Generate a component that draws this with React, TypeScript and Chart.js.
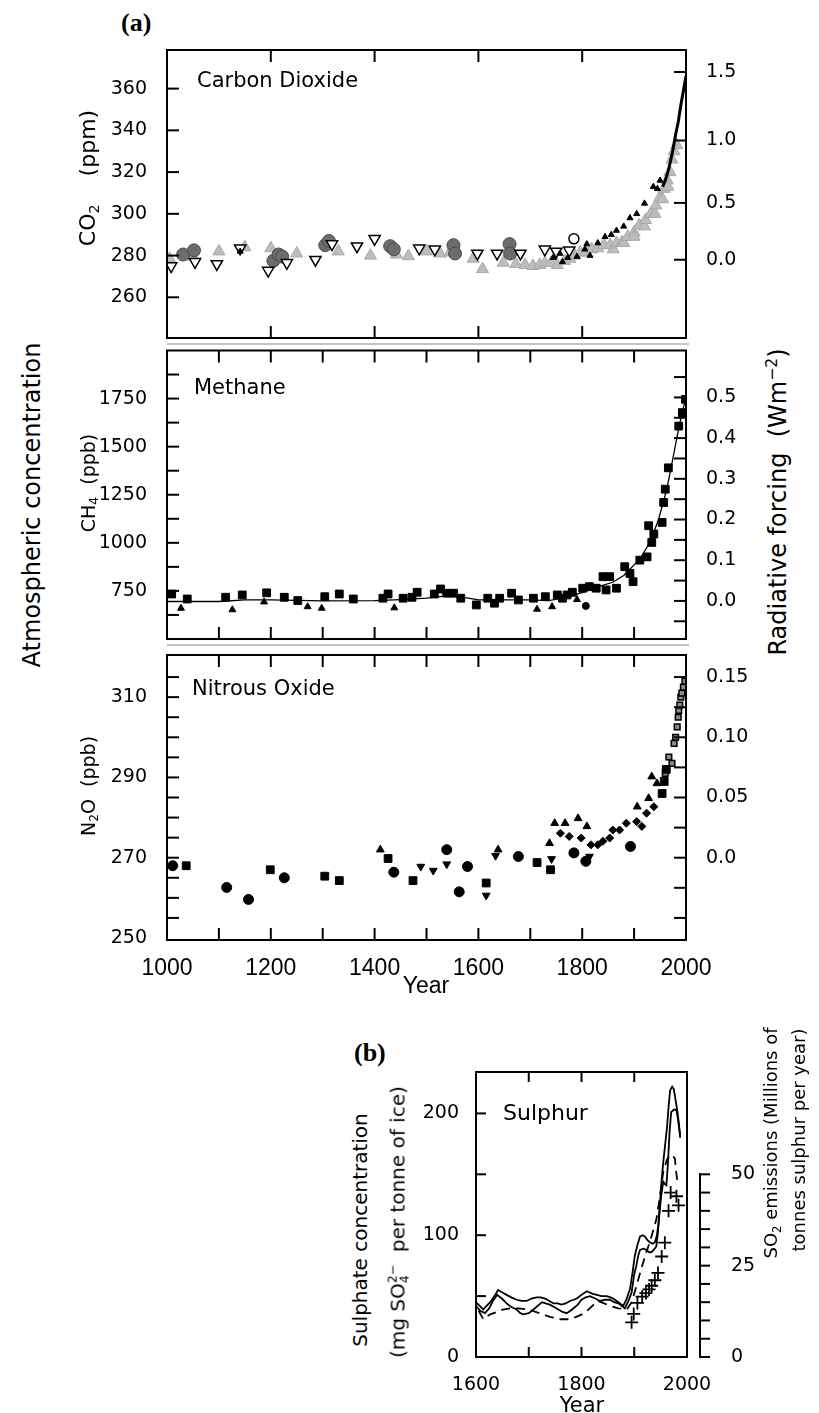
import React, { useEffect, useRef } from 'react';
import { Chart, registerables } from 'chart.js';

Chart.register(...registerables);

type Pt = [number, number];

// ---------------- shared year axis for panel (a) ----------------
const YEAR_MIN = 1000;
const YEAR_MAX = 2000;
const YEAR_LABELS = [1000, 1200, 1400, 1600, 1800, 2000];
const YEAR_TICKS_200 = [1200, 1400, 1600, 1800];
const YEAR_TICKS_100 = [1100, 1200, 1300, 1400, 1500, 1600, 1700, 1800, 1900];

// ---------------- Carbon dioxide (ppm) ----------------
const CO2_RANGE = [240.5, 378.5];
const CO2_TICKS = [260, 280, 300, 320, 340, 360];
const CO2_FORCING_TICKS = [0, 0.5, 1.0, 1.5];
const CO2_FORCING_LABELS = ['0.0', '0.5', '1.0', '1.5'];
const CO2_REF = 278; // forcing axis: F = 5.35 ln(C / 278)

const CO2_GRAY: Pt[] = [
  [1005, 278.5], [1050, 279.5], [1100, 282], [1150, 284], [1200, 283.5], [1250, 281], [1330, 282],
  [1392, 280], [1442, 280.5], [1465, 279.7], [1500, 282], [1526, 281], [1545, 281.5], [1590, 278.5],
  [1608, 273.5], [1648, 276.6], [1672, 276], [1690, 275.5], [1705, 275], [1718, 275.5], [1728, 276.5],
  [1740, 276.5], [1752, 275.5], [1766, 277.4], [1776, 278.5], [1786, 280], [1796, 281.4], [1807, 281.6],
  [1818, 283], [1830, 283.5], [1842, 285], [1854, 285], [1860, 283], [1866, 286], [1877, 286.5],
  [1880, 286], [1888, 289], [1900, 291], [1900, 289], [1910, 294.5], [1920, 294], [1922, 297],
  [1932, 300], [1940, 300], [1942, 304], [1950, 308], [1955, 307], [1958, 312], [1964, 316],
  [1965, 313], [1969, 320], [1973, 326], [1977, 330], [1982, 333],
];
const CO2_DARK: Pt[] = [
  [1031, 280.5], [1052, 282.5], [1205, 277.5], [1215, 280.5], [1222, 279.5], [1305, 285], [1312, 287],
  [1430, 284.5], [1437, 283], [1552, 285], [1555, 281], [1660, 285.5], [1661, 281],
];
const CO2_OPEN_TRI: Pt[] = [
  [1008, 275], [1054, 277], [1096, 276], [1141, 283.5], [1195, 272.8], [1231, 276.5], [1286, 278],
  [1318, 285.5], [1366, 284.5], [1400, 288], [1486, 283.5], [1516, 283], [1598, 281], [1636, 281],
  [1681, 281], [1728, 283], [1750, 282], [1775, 282.5],
];
const CO2_OPEN_CIRCLE: Pt[] = [[1784, 288]];
const CO2_BLACK: Pt[] = [
  [1141, 282], [1744, 279], [1757, 281], [1762, 277], [1772, 279], [1790, 279.5], [1805, 283],
  [1809, 285.5], [1815, 280], [1830, 286], [1844, 289], [1856, 290], [1866, 292], [1880, 294],
  [1892, 298], [1905, 300], [1920, 305], [1937, 313], [1945, 312], [1950, 316],
];
const CO2_MAUNA_LOA: Pt[] = [
  [1955, 313], [1960, 316], [1965, 320], [1970, 325], [1975, 331], [1980, 338], [1985, 344],
  [1990, 352], [1995, 359], [2000, 366],
];

// ---------------- Methane (ppb) ----------------
const CH4_RANGE = [500, 2000];
const CH4_TICKS = [750, 1000, 1250, 1500, 1750];
const CH4_MINOR = [625, 750, 875, 1000, 1125, 1250, 1375, 1500, 1625, 1750, 1875];
const CH4_FORCING_TICKS = [0, 0.1, 0.2, 0.3, 0.4, 0.5];
const CH4_FORCING_LABELS = ['0.0', '0.1', '0.2', '0.3', '0.4', '0.5'];
const CH4_FORCING_MINOR = [-0.05, 0, 0.05, 0.1, 0.15, 0.2, 0.25, 0.3, 0.35, 0.4, 0.45, 0.5, 0.55];

const CH4_SQUARES: Pt[] = [
  [1009, 734], [1039, 708], [1113, 717], [1145, 729], [1192, 740], [1226, 717], [1252, 700], [1304, 720],
  [1332, 734], [1359, 708], [1416, 712], [1426, 734], [1455, 712], [1472, 717], [1482, 743], [1515, 734],
  [1527, 760], [1539, 738], [1552, 738], [1566, 712], [1596, 677], [1618, 712], [1631, 686], [1641, 712],
  [1664, 738], [1677, 703], [1706, 712], [1729, 720], [1752, 729], [1762, 712], [1771, 729], [1781, 743],
  [1801, 764], [1814, 772], [1827, 764], [1840, 824], [1846, 755], [1853, 824], [1866, 764], [1882, 876],
  [1892, 841], [1898, 798], [1911, 910], [1925, 927], [1928, 1089], [1934, 1002], [1938, 1046],
  [1954, 1106], [1957, 1210], [1960, 1279], [1966, 1390], [1986, 1607], [1993, 1677], [1999, 1746],
];
const CH4_TRIANGLES: Pt[] = [
  [1027, 660], [1126, 652], [1187, 693], [1271, 668], [1298, 660], [1438, 662], [1713, 655], [1742, 668],
  [1790, 705],
];
const CH4_CIRCLES: Pt[] = [[1807, 672]];
const CH4_FIT: Pt[] = [
  [1000, 695], [1100, 695], [1150, 703], [1200, 703], [1300, 698], [1400, 700], [1450, 705], [1500, 712],
  [1530, 722], [1560, 722], [1600, 703], [1650, 703], [1700, 703], [1736, 700], [1768, 717], [1801, 743],
  [1833, 774], [1859, 795], [1880, 830], [1911, 915], [1930, 1000], [1947, 1120], [1963, 1280],
  [1973, 1415], [1983, 1555], [1993, 1685], [2000, 1750],
];

// ---------------- Nitrous oxide (ppb) ----------------
const N2O_RANGE = [249.5, 320.5];
const N2O_TICKS = [250, 270, 290, 310];
const N2O_MINOR = [255, 260, 265, 270, 275, 280, 285, 290, 295, 300, 305, 310, 315];
const N2O_FORCING_TICKS = [0, 0.05, 0.1, 0.15];
const N2O_FORCING_LABELS = ['0.0', '0.05', '0.10', '0.15'];
const N2O_FORCING_MINOR = [-0.05, -0.025, 0, 0.025, 0.05, 0.075, 0.1, 0.125, 0.15];

const N2O_CIRCLES: Pt[] = [
  [1011, 268], [1115, 262.6], [1157, 259.6], [1226, 265], [1437, 266.4], [1539, 272], [1563, 261.5],
  [1579, 267.8], [1677, 270.3], [1784, 271.2], [1807, 269.1], [1893, 272.8],
];
const N2O_SQUARES: Pt[] = [
  [1037, 268], [1199, 267], [1304, 265.4], [1332, 264.3], [1426, 269.8], [1474, 264.3], [1615, 263.7],
  [1713, 268.8], [1739, 267], [1954, 286], [1958, 289], [1962, 292],
];
const N2O_DOWN: Pt[] = [
  [1489, 267.8], [1513, 266.8], [1539, 268.4], [1615, 260.6], [1633, 270.5], [1741, 269.7], [1814, 270.3],
];
const N2O_UP: Pt[] = [
  [1411, 272], [1638, 272], [1737, 273.6], [1747, 278.6], [1767, 278.6], [1792, 279.8], [1809, 277.8],
  [1906, 282.7], [1928, 284.8], [1934, 290.2], [1944, 288.5],
];
const N2O_SMALL: Pt[] = [
  [1758, 276.1], [1775, 275.3], [1798, 274.9], [1817, 273.2], [1830, 273.2], [1840, 274.1], [1853, 274.9],
  [1859, 276.9], [1872, 276.9], [1885, 278.6], [1905, 279], [1915, 277.8], [1924, 281.1], [1938, 282.7],
];
const N2O_RECENT: Pt[] = [
  [1960, 291], [1967, 295.1], [1973, 293.5], [1977, 298.5], [1980, 300], [1983, 302.6], [1985, 305],
  [1986, 306.7], [1988, 308], [1990, 310], [1992, 311], [1995, 312.5], [1998, 314],
];

// ---------------- (b) Sulphur ----------------
const SUL_YEAR_LABELS = [1600, 1800, 2000];
const SUL_YEAR_TICKS = [1700, 1800, 1900];
const SUL_RANGE = [0, 234];
const SUL_TICKS = [0, 100, 200];
const SUL_MINOR = [50, 100, 150, 200];
const SO2_TICKS = [0, 25, 50];
const SO2_MINOR = [0, 5, 10, 15, 20, 25, 30, 35, 40, 45, 50];
const SO2_PER_SULPHATE = 1 / 3; // right axis scale: 50 Mt S/yr aligns with 150 mg/t

const SULPH_A: Pt[] = [
  [1600, 45], [1607, 42], [1614, 39], [1620, 42], [1627, 45], [1635, 50], [1642, 55], [1650, 53],
  [1658, 51], [1667, 49], [1677, 47], [1686, 46], [1696, 46], [1705, 48], [1715, 49], [1723, 49],
  [1731, 48], [1739, 46], [1747, 44], [1755, 44], [1762, 43], [1770, 44], [1778, 46], [1785, 47],
  [1791, 48], [1800, 51], [1810, 54], [1820, 52], [1829, 51], [1838, 50], [1848, 50], [1855, 49],
  [1860, 48], [1870, 45], [1879, 42], [1885, 47], [1892, 56], [1897, 70], [1901, 83], [1906, 92],
  [1911, 99], [1916, 100], [1920, 99], [1925, 96], [1930, 94], [1935, 93], [1939, 94], [1943, 100],
  [1946, 110], [1949, 128], [1952, 146], [1955, 160], [1958, 172], [1962, 188], [1965, 205],
  [1968, 219], [1972, 222], [1975, 220], [1978, 212], [1982, 201], [1985, 190], [1987, 180],
];
const SULPH_B: Pt[] = [
  [1600, 42], [1608, 38], [1617, 36], [1625, 40], [1632, 46], [1640, 51], [1649, 48], [1658, 44],
  [1667, 41], [1677, 39], [1684, 36], [1690, 35], [1700, 36], [1709, 39], [1717, 42], [1725, 45],
  [1732, 44], [1740, 43], [1748, 41], [1756, 39], [1764, 37], [1772, 36], [1779, 38], [1785, 40],
  [1793, 43], [1800, 47], [1808, 49], [1816, 50], [1826, 48], [1835, 46], [1845, 47], [1854, 47],
  [1862, 45], [1870, 44], [1876, 42], [1882, 40], [1888, 45], [1895, 53], [1900, 68], [1904, 75],
  [1908, 84], [1911, 88], [1917, 89], [1923, 88], [1928, 86], [1932, 86], [1937, 88], [1942, 91],
  [1945, 103], [1948, 119], [1951, 132], [1955, 144], [1958, 142], [1961, 141], [1964, 160],
  [1967, 185], [1970, 201], [1975, 203], [1980, 203], [1983, 195], [1987, 182],
];
const SULPH_C: Pt[] = [
  [1605, 38], [1614, 31], [1620, 33], [1627, 35], [1640, 37], [1651, 39], [1665, 40], [1680, 40],
  [1700, 39], [1720, 36], [1740, 33], [1760, 31], [1778, 31], [1790, 33], [1806, 36], [1818, 41],
  [1831, 46], [1843, 44], [1854, 42], [1870, 40], [1886, 39], [1895, 45], [1904, 58], [1913, 72],
  [1923, 86], [1932, 98], [1942, 113], [1948, 130], [1955, 152], [1962, 162], [1968, 166], [1973, 165],
  [1977, 163], [1980, 150], [1983, 141],
];
const SO2_EMISSIONS: Pt[] = [
  [1895, 9.5], [1899, 11.8], [1906, 14.8], [1915, 16.5], [1922, 17.5], [1928, 18.5], [1933, 19.5],
  [1939, 21], [1945, 23], [1952, 27.5], [1958, 31.3], [1965, 40], [1969, 45], [1980, 44], [1984, 41.5],
];

// ---------------- helpers ----------------
const xy = (pts: Pt[]) => pts.map(([x, y]) => ({ x, y }));
const co2FromForcing = (f: number) => CO2_REF * Math.exp(f / 5.35);
const ch4FromForcing = (f: number) => 698 + 2116 * f;
const n2oFromForcing = (f: number) => 270 + 300 * f;

const TICK_FONT = { family: 'DejaVu Sans', size: 19 };
const YEAR_FONT = { family: 'Liberation Sans', size: 23 };

interface FrameCfg {
  len: number;
  xTicks: number[];
  leftTicks: number[];
  rightTicks: number[];
  detached?: { scale: string; ticks: number[]; from: number; to: number; offset: number; len: number };
}

function framePlugin(cfg: FrameCfg) {
  return {
    id: 'frameTicks',
    afterDraw(chart: any) {
      const { ctx, chartArea: a, scales } = chart;
      ctx.save();
      ctx.strokeStyle = '#000';
      ctx.lineWidth = 2;
      ctx.strokeRect(a.left, a.top, a.right - a.left, a.bottom - a.top);
      const seg = (x1: number, y1: number, x2: number, y2: number) => {
        ctx.beginPath();
        ctx.moveTo(x1, y1);
        ctx.lineTo(x2, y2);
        ctx.stroke();
      };
      const L = cfg.len;
      cfg.xTicks.forEach((v) => {
        const p = scales.x.getPixelForValue(v);
        seg(p, a.top, p, a.top + L);
        seg(p, a.bottom, p, a.bottom - L);
      });
      cfg.leftTicks.forEach((v) => {
        const p = scales.y.getPixelForValue(v);
        seg(a.left, p, a.left + L, p);
      });
      cfg.rightTicks.forEach((v) => {
        const p = scales.y.getPixelForValue(v);
        seg(a.right, p, a.right - L, p);
      });
      if (cfg.detached) {
        const d = cfg.detached;
        const s = scales[d.scale];
        const x = a.right + d.offset;
        seg(x, s.getPixelForValue(d.from) + 1, x, s.getPixelForValue(d.to) - 1);
        d.ticks.forEach((v) => {
          const p = s.getPixelForValue(v);
          seg(x - 1, p, x + d.len, p);
        });
      }
      ctx.restore();
    },
  };
}

interface PanelOpts {
  range: number[];
  yTicks: number[];
  yMinor: number[];
  fTicks: number[];
  fLabels: string[];
  fMinor: number[];
  toConc: (f: number) => number;
  xMinor: number[];
  showX: boolean;
  padTop: number;
  padBottom: number;
  datasets: any[];
}

function panelA(o: PanelOpts): any {
  return {
    type: 'scatter',
    data: { datasets: o.datasets },
    options: {
      responsive: false,
      animation: false,
      events: [],
      devicePixelRatio: 1,
      layout: { padding: { top: o.padTop, bottom: o.padBottom, left: 0, right: 0 } },
      plugins: { legend: { display: false }, tooltip: { enabled: false } },
      scales: {
        x: {
          type: 'linear',
          min: YEAR_MIN,
          max: YEAR_MAX,
          display: o.showX,
          afterBuildTicks: (s: any) => {
            s.ticks = YEAR_LABELS.map((v) => ({ value: v }));
          },
          ticks: { font: YEAR_FONT, color: '#000', padding: 7, autoSkip: false, maxRotation: 0, callback: (v: any) => String(v) },
          grid: { display: false },
          border: { display: false },
          afterFit: (s: any) => {
            if (o.showX) s.height = 60;
            s.paddingLeft = 0;
            s.paddingRight = 0;
          },
        },
        y: {
          type: 'linear',
          position: 'left',
          min: o.range[0],
          max: o.range[1],
          afterBuildTicks: (s: any) => {
            s.ticks = o.yTicks.map((v) => ({ value: v }));
          },
          ticks: { font: TICK_FONT, color: '#000', padding: 12, autoSkip: false, callback: (v: any) => String(v) },
          grid: { display: false },
          border: { display: false },
          afterFit: (s: any) => {
            s.width = 67;
            s.paddingTop = 0;
            s.paddingBottom = 0;
          },
        },
        yR: {
          type: 'linear',
          position: 'right',
          min: o.range[0],
          max: o.range[1],
          afterBuildTicks: (s: any) => {
            s.ticks = o.fTicks.map((f) => ({ value: o.toConc(f) }));
          },
          ticks: { font: TICK_FONT, color: '#000', padding: 12, autoSkip: false, callback: (_v: any, i: number) => o.fLabels[i] },
          grid: { display: false },
          border: { display: false },
          afterFit: (s: any) => {
            s.width = 74;
            s.paddingTop = 0;
            s.paddingBottom = 0;
          },
        },
      },
    },
    plugins: [framePlugin({ len: 12, xTicks: o.xMinor, leftTicks: o.yMinor, rightTicks: o.fMinor.map(o.toConc) })],
  };
}

const pts = (data: Pt[], style: string, r: number, fill: string, stroke: string, bw: number, order: number, rot = 0) => ({
  data: xy(data),
  xAxisID: 'x',
  yAxisID: 'y',
  showLine: false,
  pointStyle: style,
  pointRadius: r,
  pointRotation: rot,
  pointBackgroundColor: fill,
  pointBorderColor: stroke,
  pointBorderWidth: bw,
  order,
});
const line = (data: Pt[], width: number, order: number, dash: number[] = [], yAxisID = 'y') => ({
  data: xy(data),
  xAxisID: 'x',
  yAxisID,
  showLine: true,
  borderColor: '#000',
  borderWidth: width,
  borderDash: dash,
  pointRadius: 0,
  tension: 0,
  order,
});

function co2Config() {
  return panelA({
    range: CO2_RANGE, yTicks: CO2_TICKS, yMinor: CO2_TICKS,
    fTicks: CO2_FORCING_TICKS, fLabels: CO2_FORCING_LABELS, fMinor: CO2_FORCING_TICKS, toConc: co2FromForcing,
    xMinor: YEAR_TICKS_200, showX: false, padTop: 10, padBottom: 7,
    datasets: [
      line(CO2_MAUNA_LOA, 3, 0),
      pts(CO2_BLACK, 'triangle', 3.5, '#000', '#000', 1, 1),
      pts(CO2_OPEN_TRI, 'triangle', 6.5, '#fff', '#000', 1.5, 2, 180),
      pts(CO2_OPEN_CIRCLE, 'circle', 5, '#fff', '#000', 1.5, 2),
      pts(CO2_DARK, 'circle', 6.5, '#6c6c6c', '#4a4a4a', 1, 3),
      pts(CO2_GRAY, 'triangle', 7, '#bdbdbd', '#a8a8a8', 1, 4),
    ],
  });
}
function ch4Config() {
  return panelA({
    range: CH4_RANGE, yTicks: CH4_TICKS, yMinor: CH4_MINOR,
    fTicks: CH4_FORCING_TICKS, fLabels: CH4_FORCING_LABELS, fMinor: CH4_FORCING_MINOR, toConc: ch4FromForcing,
    xMinor: YEAR_TICKS_100, showX: false, padTop: 6, padBottom: 7,
    datasets: [
      line(CH4_FIT, 1.3, 0),
      pts(CH4_SQUARES, 'rect', 5.5, '#000', '#000', 1, 1),
      pts(CH4_TRIANGLES, 'triangle', 4, '#000', '#000', 1, 1),
      pts(CH4_CIRCLES, 'circle', 3.5, '#000', '#000', 1, 1),
    ],
  });
}
function n2oConfig() {
  return panelA({
    range: N2O_RANGE, yTicks: N2O_TICKS, yMinor: N2O_MINOR,
    fTicks: N2O_FORCING_TICKS, fLabels: N2O_FORCING_LABELS, fMinor: N2O_FORCING_MINOR, toConc: n2oFromForcing,
    xMinor: YEAR_TICKS_100, showX: true, padTop: 7, padBottom: 0,
    datasets: [
      pts(N2O_CIRCLES, 'circle', 5, '#000', '#000', 1, 1),
      pts(N2O_SQUARES, 'rect', 5.5, '#000', '#000', 1, 1),
      pts(N2O_DOWN, 'triangle', 4.5, '#000', '#000', 1, 1, 180),
      pts(N2O_UP, 'triangle', 4.5, '#000', '#000', 1, 1),
      pts(N2O_SMALL, 'rectRot', 4, '#000', '#000', 1, 1),
      pts(N2O_RECENT, 'rect', 4, '#8a8a8a', '#000', 1.5, 1),
    ],
  });
}

function sulphurConfig(): any {
  return {
    type: 'scatter',
    data: {
      datasets: [
        { ...pts(SO2_EMISSIONS, 'cross', 6.5, '#000', '#000', 1.8, 0), yAxisID: 'yR' },
        line(SULPH_A, 1.8, 1),
        line(SULPH_B, 1.8, 1),
        line(SULPH_C, 1.8, 1, [9, 6]),
      ],
    },
    options: {
      responsive: false,
      animation: false,
      events: [],
      devicePixelRatio: 1,
      layout: { padding: { top: 10, bottom: 0, left: 0, right: 0 } },
      plugins: { legend: { display: false }, tooltip: { enabled: false } },
      scales: {
        x: {
          type: 'linear',
          min: 1600,
          max: 2000,
          afterBuildTicks: (s: any) => {
            s.ticks = SUL_YEAR_LABELS.map((v) => ({ value: v }));
          },
          ticks: { font: TICK_FONT, color: '#000', padding: 9, autoSkip: false, maxRotation: 0, callback: (v: any) => String(v) },
          grid: { display: false },
          border: { display: false },
          afterFit: (s: any) => {
            s.height = 56;
            s.paddingLeft = 0;
            s.paddingRight = 0;
          },
        },
        y: {
          type: 'linear',
          position: 'left',
          min: SUL_RANGE[0],
          max: SUL_RANGE[1],
          afterBuildTicks: (s: any) => {
            s.ticks = SUL_TICKS.map((v) => ({ value: v }));
          },
          ticks: { font: TICK_FONT, color: '#000', padding: 9, autoSkip: false, callback: (v: any) => String(v) },
          grid: { display: false },
          border: { display: false },
          afterFit: (s: any) => {
            s.width = 76;
            s.paddingTop = 0;
            s.paddingBottom = 0;
          },
        },
        yR: {
          type: 'linear',
          position: 'right',
          min: SUL_RANGE[0] * SO2_PER_SULPHATE,
          max: SUL_RANGE[1] * SO2_PER_SULPHATE,
          afterBuildTicks: (s: any) => {
            s.ticks = SO2_TICKS.map((v) => ({ value: v }));
          },
          ticks: { font: TICK_FONT, color: '#000', padding: 36, autoSkip: false, callback: (v: any) => String(v) },
          grid: { display: false },
          border: { display: false },
          afterFit: (s: any) => {
            s.width = 113;
            s.paddingTop = 0;
            s.paddingBottom = 0;
          },
        },
      },
    },
    plugins: [
      framePlugin({
        len: 10,
        xTicks: SUL_YEAR_TICKS,
        leftTicks: SUL_MINOR,
        rightTicks: [],
        detached: { scale: 'yR', ticks: SO2_MINOR, from: 0, to: 50, offset: 13, len: 10 },
      }),
    ],
  };
}

// ---------------- text helpers ----------------
const sub = (t: string) => (
  <sub style={{ fontSize: '0.65em', verticalAlign: '-0.3em', lineHeight: 0 }}>{t}</sub>
);
const sup = (t: string) => (
  <sup style={{ fontSize: '0.65em', verticalAlign: '0.55em', lineHeight: 0 }}>{t}</sup>
);

function Txt(props: { x: number; y: number; size: number; family?: string; weight?: number; center?: boolean; children: any }) {
  return (
    <div
      style={{
        position: 'absolute',
        left: props.x,
        top: props.y,
        transform: props.center ? 'translateX(-50%)' : undefined,
        fontSize: props.size,
        fontFamily: props.family || 'DejaVu Sans',
        fontWeight: props.weight || 400,
        lineHeight: 1,
        whiteSpace: 'nowrap',
        color: '#000',
      }}
    >
      {props.children}
    </div>
  );
}
function VTxt(props: { cx: number; cy: number; size: number; children: any }) {
  return (
    <div
      style={{
        position: 'absolute',
        left: props.cx,
        top: props.cy,
        transform: 'translate(-50%, -50%) rotate(-90deg)',
        fontSize: props.size,
        fontFamily: 'DejaVu Sans',
        lineHeight: 1,
        whiteSpace: 'nowrap',
        color: '#000',
      }}
    >
      {props.children}
    </div>
  );
}

export default function App() {
  const c1 = useRef<HTMLCanvasElement>(null);
  const c2 = useRef<HTMLCanvasElement>(null);
  const c3 = useRef<HTMLCanvasElement>(null);
  const c4 = useRef<HTMLCanvasElement>(null);

  useEffect(() => {
    const charts = [
      new Chart(c1.current as HTMLCanvasElement, co2Config()),
      new Chart(c2.current as HTMLCanvasElement, ch4Config()),
      new Chart(c3.current as HTMLCanvasElement, n2oConfig()),
      new Chart(c4.current as HTMLCanvasElement, sulphurConfig()),
    ];
    return () => charts.forEach((c) => c.destroy());
  }, []);

  const cv = (left: number, top: number): React.CSSProperties => ({ position: 'absolute', left, top, display: 'block' });

  return (
    <div style={{ position: 'absolute', left: 0, top: 0, width: 819, height: 1413, background: '#fff', overflow: 'hidden' }}>
      <canvas ref={c1} width={660} height={306} style={cv(100, 40)} />
      <canvas ref={c2} width={660} height={302} style={cv(100, 344)} />
      <canvas ref={c3} width={660} height={352} style={cv(100, 648)} />
      <canvas ref={c4} width={400} height={351} style={cv(400, 1062)} />

      <div style={{ position: 'absolute', left: 167, top: 343, width: 522, height: 2, background: '#c4c4c4' }} />
      <div style={{ position: 'absolute', left: 167, top: 644, width: 522, height: 2, background: '#c4c4c4' }} />

      <Txt x={121} y={10} size={26} family="Liberation Serif" weight={700}>(a)</Txt>
      <Txt x={354} y={1040} size={26} family="Liberation Serif" weight={700}>(b)</Txt>

      <Txt x={197} y={70} size={21}>Carbon Dioxide</Txt>
      <Txt x={194} y={377} size={21}>Methane</Txt>
      <Txt x={192} y={678} size={21}>Nitrous Oxide</Txt>
      <Txt x={503} y={1102} size={22}>Sulphur</Txt>

      <Txt x={426} y={974} size={23} family="Liberation Sans" center>Year</Txt>
      <Txt x={582} y={1395} size={21} center>Year</Txt>

      <VTxt cx={32} cy={505} size={24}>Atmospheric concentration</VTxt>
      <VTxt cx={778} cy={502} size={24}>
        Radiative forcing{'\u00a0\u00a0'}(Wm{sup('\u22122')})
      </VTxt>

      <VTxt cx={88} cy={178} size={22}>
        CO{sub('2')}{'\u00a0\u00a0\u00a0\u00a0'}(ppm)
      </VTxt>
      <VTxt cx={88} cy={483} size={19}>
        CH{sub('4')}{'\u00a0\u00a0'}(ppb)
      </VTxt>
      <VTxt cx={88} cy={786} size={19}>
        N{sub('2')}O{'\u00a0\u00a0'}(ppb)
      </VTxt>

      <VTxt cx={360} cy={1230} size={20}>Sulphate concentration</VTxt>
      <VTxt cx={399} cy={1222} size={20}>
        (mg SO
        <span style={{ display: 'inline-flex', flexDirection: 'column', fontSize: '0.62em', lineHeight: 1, verticalAlign: 'middle' }}>
          <span>2{'\u2212'}</span>
          <span>4</span>
        </span>
        {'\u00a0\u00a0'}per tonne of ice)
      </VTxt>
      <VTxt cx={771} cy={1143} size={18}>
        SO{sub('2')} emissions (Millions of
      </VTxt>
      <VTxt cx={799} cy={1140} size={18}>tonnes sulphur per year)</VTxt>
    </div>
  );
}
